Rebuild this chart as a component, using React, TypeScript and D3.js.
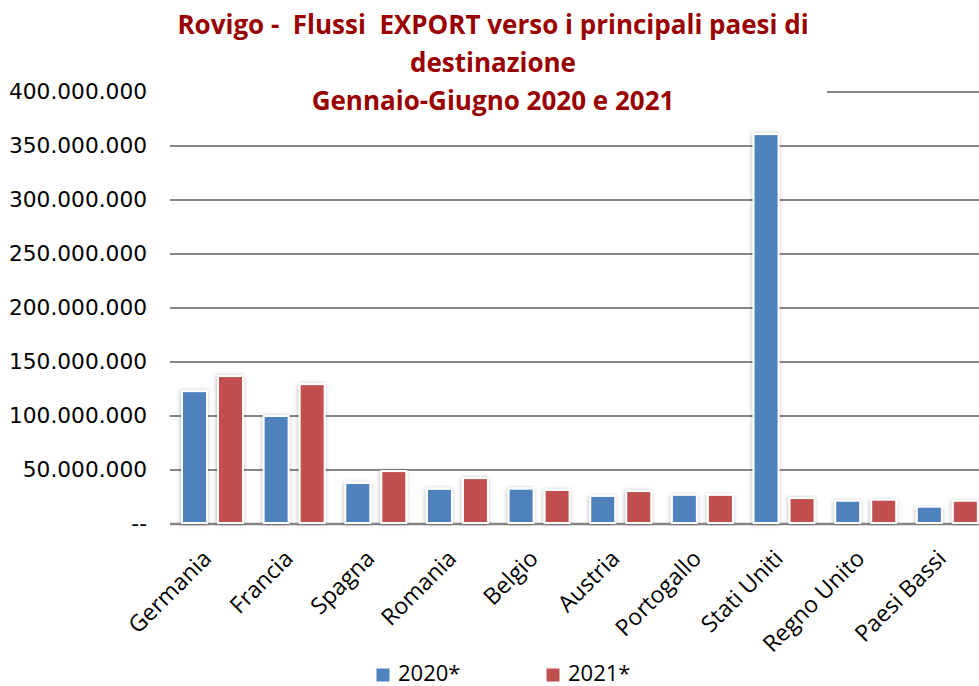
import React from 'react';
import * as d3 from 'd3';

const categories = ['Germania', 'Francia', 'Spagna', 'Romania', 'Belgio', 'Austria', 'Portogallo', 'Stati Uniti', 'Regno Unito', 'Paesi Bassi'];
const seriesNames = ['2020*', '2021*'];
const values2020 = [123000000, 100000000, 38000000, 32500000, 32700000, 26000000, 27000000, 361000000, 21500000, 16000000];
const values2021 = [137000000, 129500000, 49000000, 42500000, 31500000, 30500000, 27000000, 24000000, 22500000, 21500000];
const yTicks = [0, 50000000, 100000000, 150000000, 200000000, 250000000, 300000000, 350000000, 400000000];
const titleLines = ['Rovigo -  Flussi  EXPORT verso i principali paesi di', 'destinazione', 'Gennaio-Giugno 2020 e 2021'];

const colors = ['#4f81bd', '#c0504d'];

function fmt(v: number) {
  if (v === 0) return '--';
  return d3.format(',')(v).replace(/,/g, '.');
}

export default function App() {
  const width = 979, height = 686;
  const left = 170, right = 986.5, top = 92, bottom = 524;

  const x0 = d3.scaleBand<string>().domain(categories).range([left, right]).padding(0);
  const x1 = d3.scaleBand<string>().domain(seriesNames).range([12, 73]).paddingInner(0.306);
  const y = d3.scaleLinear().domain([0, 400000000]).range([bottom, top]);

  const series = [values2020, values2021];

  return (
    <svg width={width} height={height} style={{ position: 'absolute', left: 0, top: 0, background: '#fff' }}>
      <defs>
        <filter id="sh" x="-40%" y="-10%" width="180%" height="120%">
          <feDropShadow dx="-0.5" dy="0.5" stdDeviation="2.2" floodColor="#000" floodOpacity="0.28" />
        </filter>
      </defs>
      <rect width={width} height={height} fill="#fff" />
      {/* gridlines */}
      {yTicks.map(t => (
        <line key={t} x1={left} x2={width} y1={y(t)} y2={y(t)} stroke="#868686" strokeWidth={t === 0 ? 2.5 : 2} />
      ))}
      {/* title box hides part of the top gridline */}
      <rect x={152} y={0} width={675} height={118} fill="#fff" />
      {titleLines.map((t, i) => (
        <text key={i} x={493} y={34 + i * 38} textAnchor="middle" fontFamily="'Open Sans', sans-serif"
          fontWeight="bold" fontSize={26} fill="#990000" style={{ whiteSpace: 'pre' }}>{t}</text>
      ))}
      {/* y labels */}
      {yTicks.map(t => (
        <text key={'l' + t} x={147} y={y(t) + 7} textAnchor="end" fontFamily="'DejaVu Sans', sans-serif" fontSize={21.7} fill="#000">{fmt(t)}</text>
      ))}
      {/* bars */}
      {categories.map((c, i) => (
        <g key={c} transform={`translate(${x0(c)},0)`}>
          {series.map((s, k) => (
            <rect key={k} x={x1(seriesNames[k])} y={y(s[i])} width={x1.bandwidth()} height={y(0) - y(s[i]) - 1}
              fill={colors[k]} stroke="#fff" strokeWidth={2} filter="url(#sh)" />
          ))}
        </g>
      ))}
      {/* x labels */}
      {categories.map(c => {
        const cx = (x0(c) as number) + x0.bandwidth() / 2 + 2;
        const cy = 560;
        return (
          <text key={'x' + c} transform={`translate(${cx},${cy}) rotate(-45)`} textAnchor="end"
            fontFamily="'Open Sans', sans-serif" fontSize={23} fill="#000">{c}</text>
        );
      })}
      {/* legend */}
      {seriesNames.map((n, k) => (
        <g key={n} transform={`translate(${376 + k * 170},0)`}>
          <rect x={0} y={668} width={14} height={14} fill={colors[k]} stroke="#fff" strokeWidth={1} />
          <text x={22} y={681} fontFamily="'Open Sans', sans-serif" fontSize={22} fill="#000">{n}</text>
        </g>
      ))}
    </svg>
  );
}
